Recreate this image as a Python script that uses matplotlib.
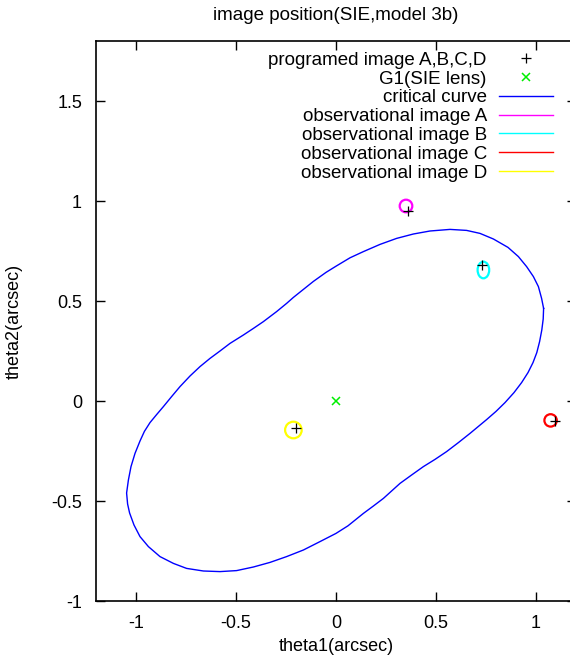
import matplotlib
matplotlib.use("Agg")
import matplotlib.pyplot as plt
from matplotlib.patches import Ellipse
from matplotlib.lines import Line2D
from matplotlib.ticker import FuncFormatter, MultipleLocator

# critical curve (theta1, theta2)
crit_x = [1.038, 1.028, 1.012, 0.987, 0.953, 0.912, 0.860, 0.787, 0.720, 0.653, 0.570,
          0.470, 0.387, 0.303, 0.220, 0.137, 0.070, 0.000, -0.050, -0.113, -0.163, -0.213,
          -0.247, -0.297, -0.363, -0.413, -0.463, -0.530, -0.580, -0.630, -0.680,
          -0.730, -0.780, -0.822, -0.863, -0.897, -0.930, -0.958, -0.980, -1.005, -1.025,
          -1.038, -1.047, -1.042, -1.032, -1.010, -0.980, -0.938, -0.880, -0.813,
          -0.747, -0.663, -0.580, -0.497, -0.413, -0.330, -0.247, -0.163, -0.080,
          0.000, 0.060, 0.137, 0.187, 0.237, 0.320, 0.378, 0.437, 0.495, 0.553, 0.612,
          0.670, 0.753, 0.800, 0.845, 0.890, 0.928, 0.960, 0.985, 1.004, 1.018, 1.029,
          1.036, 1.038]
crit_y = [0.463, 0.513, 0.572, 0.622, 0.672, 0.722, 0.768, 0.810, 0.838, 0.853, 0.858,
          0.850, 0.835, 0.813, 0.783, 0.747, 0.716, 0.674, 0.643, 0.598, 0.558, 0.518,
          0.488, 0.447, 0.397, 0.363, 0.330, 0.288, 0.250, 0.213, 0.172,
          0.125, 0.072, 0.022, -0.028, -0.068, -0.108, -0.152, -0.200, -0.262, -0.328,
          -0.395, -0.460, -0.515, -0.560, -0.620, -0.678, -0.728, -0.778, -0.812,
          -0.837, -0.850, -0.853, -0.848, -0.830, -0.807, -0.778, -0.745, -0.703,
          -0.662, -0.624, -0.562, -0.525, -0.487, -0.412, -0.370, -0.328, -0.292, -0.253, -0.208,
          -0.162, -0.093, -0.052, -0.008, 0.042, 0.092, 0.142, 0.192, 0.242, 0.297, 0.355,
          0.410, 0.463]

# programed images A, B, C, D
prog_x = [0.358, 0.728, 1.095, -0.200]
prog_y = [0.950, 0.680, -0.098, -0.137]

# G1 lens position
lens_x = [0.0]
lens_y = [0.0]

# observational images A, B, C, D (centre, width, height)
obs_names = ["observational image A", "observational image B",
             "observational image C", "observational image D"]
obs_x = [0.350, 0.737, 1.073, -0.213]
obs_y = [0.975, 0.655, -0.097, -0.145]
obs_w = [0.063, 0.058, 0.062, 0.083]
obs_h = [0.063, 0.083, 0.062, 0.083]
obs_colors = ["#ff00ff", "#00ffff", "#ff0000", "#ffff00"]

plt.rcParams["font.family"] = ["Liberation Sans", "DejaVu Sans"]
plt.rcParams["font.size"] = 13

fig = plt.figure(figsize=(5.7, 6.63), dpi=100)
ax = fig.add_axes([96 / 570, 62 / 663, 480 / 570, 560 / 663])

ax.plot(crit_x, crit_y, color="#0000ff", lw=1.0, solid_joinstyle="round")
for i in range(len(obs_x)):
    ax.add_patch(Ellipse((obs_x[i], obs_y[i]), obs_w[i], obs_h[i],
                         fill=False, edgecolor=obs_colors[i], lw=1.6))
ax.plot(lens_x, lens_y, ls="none", marker="x", color="#00ee00", ms=6, mew=1.1)
ax.plot(prog_x, prog_y, ls="none", marker="+", color="black", ms=7, mew=0.9)

ax.set_xlim(-1.2, 1.2)
ax.set_ylim(-1.0, 1.8)
ax.xaxis.set_major_locator(MultipleLocator(0.5))
ax.yaxis.set_major_locator(MultipleLocator(0.5))
fmt = FuncFormatter(lambda v, p: "%g" % v)
ax.xaxis.set_major_formatter(fmt)
ax.yaxis.set_major_formatter(fmt)
ax.tick_params(direction="in", length=6.5, width=1, top=True, right=True, pad=10)
for s in ax.spines.values():
    s.set_linewidth(1.2)

ax.set_title("image position(SIE,model 3b)", fontsize=13.5, pad=15)
ax.set_xlabel("theta1(arcsec)")
ax.set_ylabel("theta2(arcsec)")
ax.xaxis.set_label_coords(0.5, -0.082)
ax.yaxis.set_label_coords(-0.171, 0.5)
ax.xaxis.label.set_va("center")
ax.yaxis.label.set_va("center")

handles = [Line2D([], [], ls="none", marker="+", color="black", ms=7, mew=0.9),
           Line2D([], [], ls="none", marker="x", color="#00ee00", ms=6, mew=1.1),
           Line2D([], [], color="#0000ff", lw=1.0)]
handles += [Line2D([], [], color=c, lw=1.0) for c in obs_colors]
labels = ["programed image A,B,C,D", "G1(SIE lens)", "critical curve"] + obs_names
ax.legend(handles, labels, loc="upper right", bbox_to_anchor=(0.952, 0.981),
          frameon=False, markerfirst=False, handlelength=2.88, handletextpad=0.65,
          labelspacing=0.09, borderpad=0, borderaxespad=0, fontsize=13.5)

fig.savefig("out.png", dpi=100)
